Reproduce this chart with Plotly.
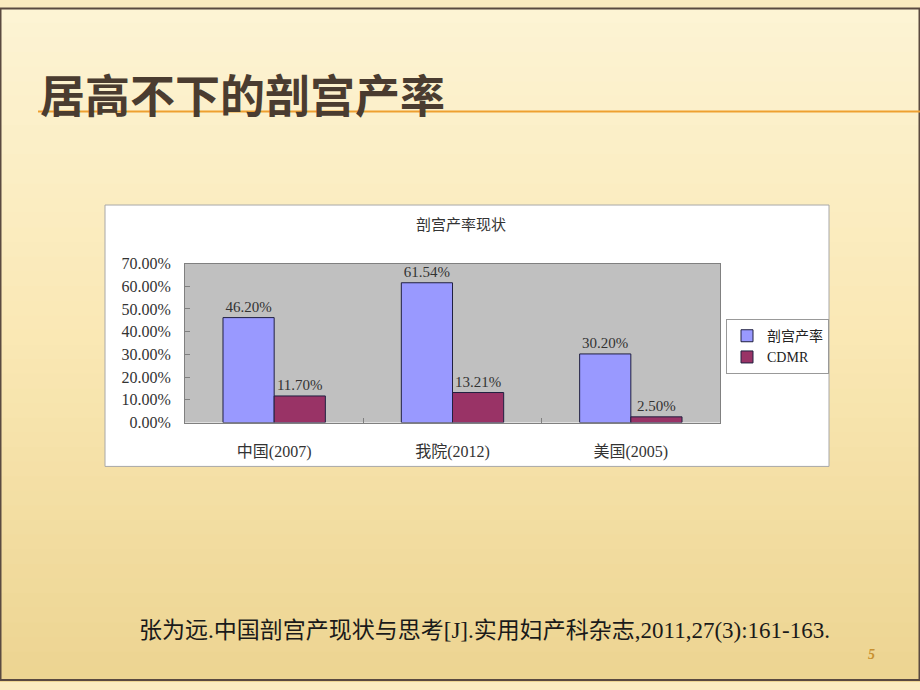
import plotly.graph_objects as go

# ---- data ----
categories = ["中国(2007)", "我院(2012)", "美国(2005)"]
cs_rate = [0.4620, 0.6154, 0.3020]
cdmr = [0.1170, 0.1321, 0.0250]
series_names = ["剖宫产率", "CDMR"]
y_tick_vals = [0, 0.1, 0.2, 0.3, 0.4, 0.5, 0.6, 0.7]
y_tick_text = ["0.00%", "10.00%", "20.00%", "30.00%", "40.00%", "50.00%", "60.00%", "70.00%"]

W, H = 920, 690
def px(x):
    return x / W
def py(y):
    return 1 - y / H

CJK_SERIF = "Liberation Serif, Noto Sans CJK SC"

fig = go.Figure()
fig.add_trace(go.Bar(
    x=categories, y=cs_rate, name=series_names[0],
    marker=dict(color="#9999ff", line=dict(color="#202040", width=1)),
    texttemplate="%{y:.2%}", textposition="outside", cliponaxis=False,
    textfont=dict(size=15, color="#333333", family=CJK_SERIF),
))
fig.add_trace(go.Bar(
    x=categories, y=cdmr, name=series_names[1],
    marker=dict(color="#993366", line=dict(color="#202040", width=1)),
    texttemplate="%{y:.2%}", textposition="outside", cliponaxis=False,
    textfont=dict(size=15, color="#333333", family=CJK_SERIF),
))

shapes = []
# background gradient bands
top = (253, 244, 212)
mid = (250, 232, 180)
bot = (237, 213, 146)
n = 46
for i in range(n):
    t = i / (n - 1)
    if t < 0.5:
        u = t / 0.5
        c = tuple(int(top[k] + (mid[k] - top[k]) * u) for k in range(3))
    else:
        u = (t - 0.5) / 0.5
        c = tuple(int(mid[k] + (bot[k] - mid[k]) * u) for k in range(3))
    y0 = H * i / n
    y1 = H * (i + 1) / n + 1
    shapes.append(dict(type="rect", xref="paper", yref="paper", layer="below",
                       x0=0, x1=1, y0=py(y1), y1=py(y0),
                       fillcolor="rgb(%d,%d,%d)" % c, line=dict(width=0)))
# frame
shapes.append(dict(type="rect", xref="paper", yref="paper", layer="below",
                   x0=px(0.5), x1=px(919.5), y0=py(689), y1=py(0.5),
                   fillcolor="rgba(0,0,0,0)", line=dict(color="#5a4a40", width=2)))
# orange title rule
shapes.append(dict(type="line", xref="paper", yref="paper", layer="below",
                   x0=px(38), x1=1, y0=py(106), y1=py(106),
                   line=dict(color="#eea030", width=2)))
# white chart box
shapes.append(dict(type="rect", xref="paper", yref="paper", layer="below",
                   x0=px(105), x1=px(829), y0=py(470), y1=py(202),
                   fillcolor="white", line=dict(color="#a8a8a8", width=1)))
# gray plot area (drawn over the white box)
shapes.append(dict(type="rect", xref="x domain", yref="y domain", layer="below",
                   x0=0, x1=1, y0=0, y1=1,
                   fillcolor="#c0c0c0", line=dict(width=0)))

annotations = [
    dict(text="<b>居高不下的剖宫产率</b>", x=px(38), y=py(88), xref="paper", yref="paper",
         xanchor="left", yanchor="middle", showarrow=False,
         font=dict(size=45, color="#4a3c30", family="Noto Sans CJK SC")),
    dict(text="剖宫产率现状", x=px(461), y=py(222), xref="paper", yref="paper",
         xanchor="center", yanchor="middle", showarrow=False,
         font=dict(size=15, color="#333333", family=CJK_SERIF)),
    dict(text="张为远.中国剖宫产现状与思考[J].实用妇产科杂志,2011,27(3):161-163.",
         x=px(137), y=py(638), xref="paper", yref="paper",
         xanchor="left", yanchor="middle", showarrow=False,
         font=dict(size=23, color="#1a1a1a", family=CJK_SERIF)),
    dict(text="<i><b>5</b></i>", x=px(871), y=py(663), xref="paper", yref="paper",
         xanchor="center", yanchor="middle", showarrow=False,
         font=dict(size=14, color="#c89030", family="Liberation Serif")),
]

fig.update_layout(
    width=W, height=H,
    margin=dict(l=0, r=0, t=0, b=0),
    paper_bgcolor="#fbecc0",
    plot_bgcolor="#c0c0c0",
    barmode="group",
    bargap=0.426,
    bargroupgap=0,
    shapes=shapes,
    annotations=annotations,
    showlegend=True,
    legend=dict(x=px(726), y=py(319), xanchor="left", yanchor="top",
                bgcolor="white", bordercolor="#999999", borderwidth=1,
                font=dict(size=14, color="#222222", family=CJK_SERIF),
                itemwidth=30, tracegroupgap=0),
    xaxis=dict(domain=[px(185), px(720)], showgrid=False,
               showline=True, linecolor="#808080", linewidth=1, mirror=True,
               ticks="inside", ticklen=5, tickcolor="#808080", tickson="boundaries",
               tickfont=dict(size=16, color="#333333", family=CJK_SERIF),
               ticklabelstandoff=14),
    yaxis=dict(domain=[py(425), py(262)], range=[0, 0.7],
               tickvals=y_tick_vals, ticktext=y_tick_text, showgrid=False,
               showline=True, linecolor="#808080", linewidth=1, mirror=True,
               ticks="inside", ticklen=5, tickcolor="#808080", zeroline=False,
               tickfont=dict(size=16, color="#333333", family=CJK_SERIF),
               ticklabelstandoff=10),
)

fig.write_html("out.html")
